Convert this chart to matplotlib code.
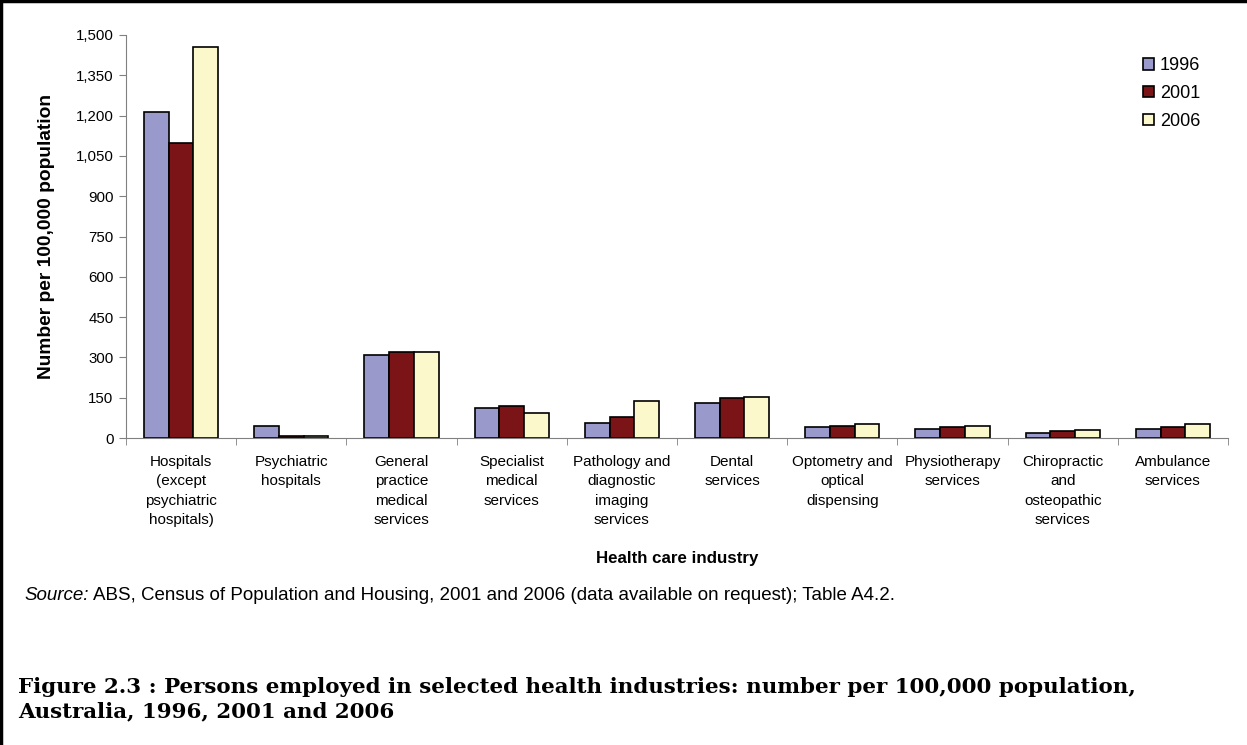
import matplotlib
matplotlib.use("Agg")
from matplotlib import pyplot as plt
from matplotlib.lines import Line2D
import numpy as np

plt.rcParams['font.family'] = ['Liberation Sans', 'DejaVu Sans']

categories = ["Hospitals\n(except\npsychiatric\nhospitals)", "Psychiatric\nhospitals",
              "General\npractice\nmedical\nservices", "Specialist\nmedical\nservices",
              "Pathology and\ndiagnostic\nimaging\nservices", "Dental\nservices",
              "Optometry and\noptical\ndispensing", "Physiotherapy\nservices",
              "Chiropractic\nand\nosteopathic\nservices", "Ambulance\nservices"]
years = ["1996", "2001", "2006"]
v1996 = [1212, 45, 309, 110, 56, 131, 40, 35, 20, 35]
v2001 = [1099, 8, 321, 120, 79, 149, 45, 40, 25, 40]
v2006 = [1455, 8, 321, 94, 137, 154, 51, 46, 30, 51]
colors = ["#9999cc", "#7b1416", "#fbf8cc"]

fig = plt.figure(figsize=(12.47, 7.45), dpi=100)
ax = fig.add_axes([126 / 1247, 1 - 438 / 745, 1102 / 1247, 403 / 745])

x = np.arange(len(categories))
w = 0.224
for i, (vals, c, lab) in enumerate(zip([v1996, v2001, v2006], colors, years)):
    ax.bar(x + (i - 1) * w, vals, w, color=c, edgecolor="black", linewidth=1.2, label=lab)

ax.set_xlim(-0.5, len(categories) - 0.5)
ax.set_ylim(0, 1500)
ax.set_yticks(range(0, 1501, 150))
ax.set_yticklabels([f"{v:,}" for v in range(0, 1501, 150)], fontsize=10.8)
ax.set_xticks(x)
ax.set_xticklabels(categories, fontsize=11, linespacing=1.5, va="top")
ax.tick_params(axis="x", length=0, pad=12)
ax.set_xticks(np.arange(-0.5, len(categories)), minor=True)
ax.tick_params(axis="x", which="minor", length=5, color="#808080")
ax.tick_params(axis="y", length=5, color="#808080", pad=4)
for s in ["top", "right"]:
    ax.spines[s].set_visible(False)
for s in ["left", "bottom"]:
    ax.spines[s].set_color("#808080")

ax.set_ylabel("Number per 100,000 population", fontsize=13.8, fontweight="bold", labelpad=15)
ax.set_xlabel("Health care industry", fontsize=12.2, fontweight="bold", labelpad=17)

ax.legend(loc="upper left", bbox_to_anchor=(0.908, 0.985), frameon=False, fontsize=13,
          handlelength=0.6, handleheight=0.6, handletextpad=0.35, labelspacing=0.6)

fig.text(24 / 1247, 1 - 596 / 745, "Source:", fontsize=13.5, style="italic", va="center")
fig.text(93 / 1247, 1 - 596 / 745, "ABS, Census of Population and Housing, 2001 and 2006 "
         "(data available on request); Table A4.2.", fontsize=13.5, va="center")
fig.text(18 / 1247, 1 - 699 / 745, "Figure 2.3 : Persons employed in selected health industries: "
         "number per 100,000 population,\nAustralia, 1996, 2001 and 2006",
         fontsize=15.4, fontweight="bold", family=["DejaVu Serif"], va="center", linespacing=1.25)

fig.add_artist(Line2D([1 / 1247, 1 / 1247], [0, 1], color="black", linewidth=2.5, transform=fig.transFigure))
fig.add_artist(Line2D([0, 1], [1 - 1 / 745, 1 - 1 / 745], color="black", linewidth=2.5, transform=fig.transFigure))

fig.savefig("out.png", dpi=100)
